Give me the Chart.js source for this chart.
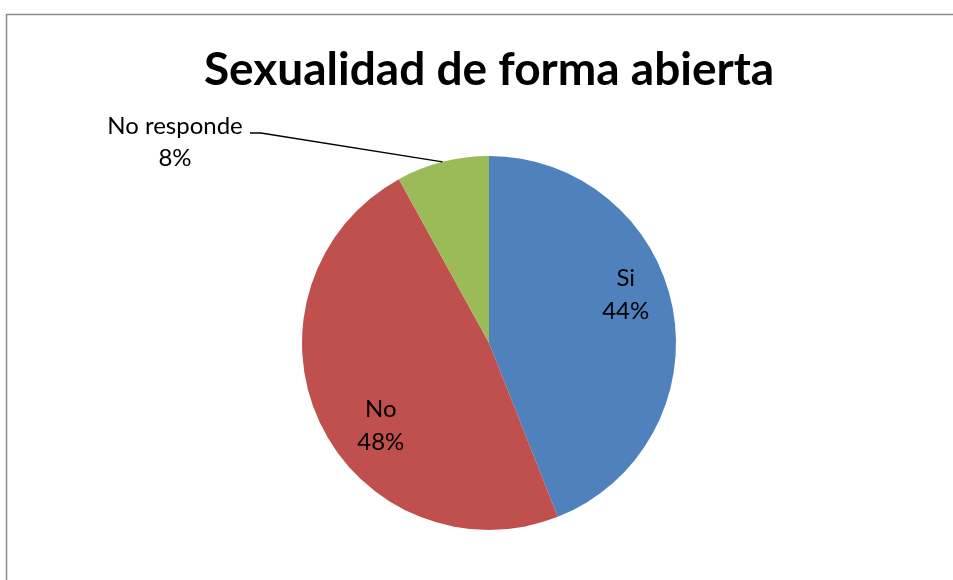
<!DOCTYPE html>
<html>
<head>
<meta charset="utf-8">
<script src="https://cdn.jsdelivr.net/npm/chart.js@4"></script>
<style>
  html, body { margin: 0; padding: 0; background: #fff; }
  #wrap { position: relative; width: 953px; height: 580px; }
</style>
</head>
<body>
<div id="wrap"><canvas id="pieChart" width="953" height="580"></canvas></div>
<script>
const chartTitle = 'Sexualidad de forma abierta';
const categories = ['Si', 'No', 'No responde'];
const percentages = [44, 48, 8];
const sliceColors = ['#4F81BD', '#C0504D', '#9BBB59'];

// where Excel put each data label: angle from 12 o'clock (deg) and radius fraction
const labelPlace = [
    { angle: 69.6, r: 0.78 },
    { angle: 233.5, r: 0.72 },
    { angle: null }
];

const decoPlugin = {
    id: 'deco',
    beforeDraw(chart) {
        const ctx = chart.ctx;
        ctx.save();
        ctx.fillStyle = '#fff';
        ctx.fillRect(0, 0, chart.width, chart.height);
        ctx.strokeStyle = '#8c8c8c';
        ctx.lineWidth = 1.5;
        ctx.strokeRect(6.5, 14.5, chart.width + 20, chart.height + 20);
        ctx.fillStyle = '#000';
        ctx.font = 'bold 46px Lato';
        ctx.textAlign = 'center';
        ctx.textBaseline = 'alphabetic';
        ctx.fillText(chartTitle, 489, 85);
        ctx.restore();
    },
    afterDatasetsDraw(chart) {
        const ctx = chart.ctx;
        const arcs = chart.getDatasetMeta(0).data;
        ctx.save();
        ctx.fillStyle = '#000';
        ctx.font = '24px Lato';
        ctx.textAlign = 'center';
        arcs.forEach((arc, i) => {
            const p = labelPlace[i];
            const txt1 = categories[i];
            const txt2 = percentages[i] + '%';
            if (p.angle !== null) {
                const a = p.angle * Math.PI / 180;
                const x = arc.x + Math.sin(a) * arc.outerRadius * p.r;
                const y = arc.y - Math.cos(a) * arc.outerRadius * p.r;
                ctx.fillText(txt1, x, y - 6);
                ctx.fillText(txt2, x, y + 27);
            } else {
                // outside label with leader line
                const mid = (arc.startAngle + arc.endAngle) / 2;
                const ex = arc.x + Math.cos(mid) * arc.outerRadius;
                const ey = arc.y + Math.sin(mid) * arc.outerRadius;
                const lx = arc.x - 314, ly = arc.y - 199;
                ctx.fillText(txt1, lx, ly - 10);
                ctx.fillText(txt2, lx, ly + 22);
                ctx.strokeStyle = '#000';
                ctx.lineWidth = 1.5;
                ctx.beginPath();
                ctx.moveTo(lx + 75, ly - 11);
                ctx.lineTo(lx + 86, ly - 11);
                ctx.lineTo(ex, ey);
                ctx.stroke();
            }
        });
        ctx.restore();
    }
};

new Chart(document.getElementById('pieChart'), {
    type: 'pie',
    data: {
        labels: categories,
        datasets: [{
            data: percentages,
            backgroundColor: sliceColors,
            borderWidth: 0
        }]
    },
    options: {
        responsive: false,
        animation: false,
        layout: { padding: { top: 156, bottom: 50, left: 125, right: 100 } },
        plugins: {
            legend: { display: false },
            tooltip: { enabled: false },
            title: { display: false }
        }
    },
    plugins: [decoPlugin]
});
</script>
</body>
</html>
